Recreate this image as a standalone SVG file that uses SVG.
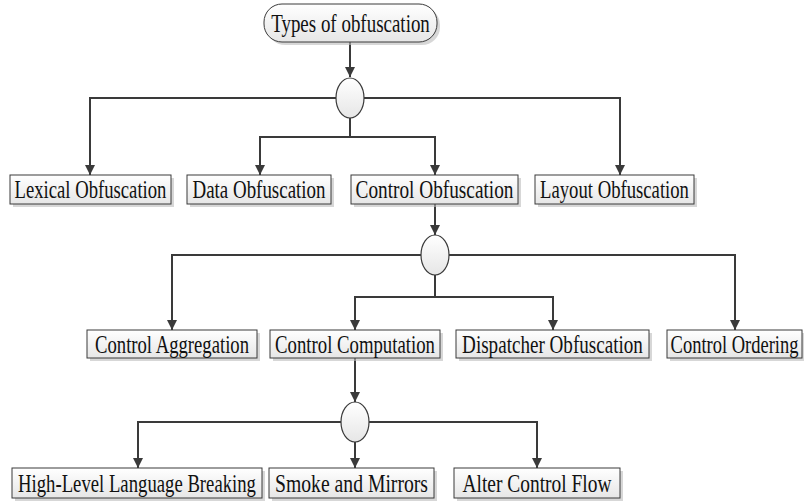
<svg xmlns="http://www.w3.org/2000/svg" width="804" height="504" viewBox="0 0 804 504">
<style>
.box{fill:url(#g);stroke:#3a3a3a;stroke-width:1}
.sh{fill:#bdbdbd;opacity:0.6}
.el{fill:url(#g);stroke:#3a3a3a;stroke-width:1.2}
.t{font-family:"Liberation Serif","Times New Roman",serif;font-size:26px;fill:#111;text-anchor:middle}
.c{fill:none;stroke:#3a3a3a;stroke-width:2}
</style>
<defs>
<linearGradient id="g" x1="0" y1="0" x2="0" y2="1">
<stop offset="0" stop-color="#ffffff"/>
<stop offset="1" stop-color="#e6e6e6"/>
</linearGradient>
<marker id="a" viewBox="0 0 10 10" refX="10" refY="5" markerWidth="5.5" markerHeight="5" orient="auto" markerUnits="strokeWidth">
<path d="M0,0 L10,5 L0,10 z" fill="#3a3a3a"/>
</marker>
</defs>
<rect width="804" height="504" fill="#ffffff"/>
<g id="connectors">
<path class="c" d="M350,42 V77" marker-end="url(#a)"/>
<path class="c" d="M336,98 H90 V175" marker-end="url(#a)"/>
<path class="c" d="M364,98 H620 V175" marker-end="url(#a)"/>
<path class="c" d="M350,118 V137 H260 V175" marker-end="url(#a)"/>
<path class="c" d="M350,137 H435 V175" marker-end="url(#a)"/>
<path class="c" d="M435,204 V235" marker-end="url(#a)"/>
<path class="c" d="M421,255 H172 V330" marker-end="url(#a)"/>
<path class="c" d="M449,255 H735 V330" marker-end="url(#a)"/>
<path class="c" d="M435,275 V297 H355 V330" marker-end="url(#a)"/>
<path class="c" d="M435,297 H553 V330" marker-end="url(#a)"/>
<path class="c" d="M355,358 V402" marker-end="url(#a)"/>
<path class="c" d="M341,422 H138 V468" marker-end="url(#a)"/>
<path class="c" d="M369,422 H537 V468" marker-end="url(#a)"/>
<path class="c" d="M355,442 V468" marker-end="url(#a)"/>
</g>
<g id="n-types">
<rect class="sh" x="267" y="7" width="173" height="38" rx="18"/>
<rect class="box" x="264" y="4" width="173" height="38" rx="18"/>
<text class="t" transform="translate(350.5,31.5) scale(0.729,1)">Types of obfuscation</text>
</g>
<g id="j1"><ellipse class="el" cx="350" cy="98" rx="14" ry="20"/></g>
<g id="n-lexical">
<rect class="sh" x="13" y="178" width="161" height="29"/>
<rect class="box" x="10" y="175" width="161" height="29"/>
<text class="t" transform="translate(90.5,198) scale(0.718,1)">Lexical Obfuscation</text>
</g>
<g id="n-data">
<rect class="sh" x="190" y="178" width="144" height="29"/>
<rect class="box" x="187" y="175" width="144" height="29"/>
<text class="t" transform="translate(259,198) scale(0.728,1)">Data Obfuscation</text>
</g>
<g id="n-control">
<rect class="sh" x="354" y="178" width="167" height="29"/>
<rect class="box" x="351" y="175" width="167" height="29"/>
<text class="t" transform="translate(434.5,198) scale(0.742,1)">Control Obfuscation</text>
</g>
<g id="n-layout">
<rect class="sh" x="538" y="178" width="159" height="29"/>
<rect class="box" x="535" y="175" width="159" height="29"/>
<text class="t" transform="translate(614.5,198) scale(0.719,1)">Layout Obfuscation</text>
</g>
<g id="j2"><ellipse class="el" cx="435" cy="255" rx="14" ry="20"/></g>
<g id="n-aggregation">
<rect class="sh" x="90" y="333" width="170" height="28"/>
<rect class="box" x="87" y="330" width="170" height="28"/>
<text class="t" transform="translate(172,352.5) scale(0.718,1)">Control Aggregation</text>
</g>
<g id="n-computation">
<rect class="sh" x="273" y="333" width="170" height="28"/>
<rect class="box" x="270" y="330" width="170" height="28"/>
<text class="t" transform="translate(355,352.5) scale(0.721,1)">Control Computation</text>
</g>
<g id="n-dispatcher">
<rect class="sh" x="459" y="333" width="193" height="28"/>
<rect class="box" x="456" y="330" width="193" height="28"/>
<text class="t" transform="translate(552.5,352.5) scale(0.735,1)">Dispatcher Obfuscation</text>
</g>
<g id="n-ordering">
<rect class="sh" x="670" y="333" width="135" height="28"/>
<rect class="box" x="667" y="330" width="135" height="28"/>
<text class="t" transform="translate(734.5,352.5) scale(0.712,1)">Control Ordering</text>
</g>
<g id="j3"><ellipse class="el" cx="355" cy="422" rx="14" ry="20"/></g>
<g id="n-highlevel">
<rect class="sh" x="15" y="471" width="250" height="30"/>
<rect class="box" x="12" y="468" width="250" height="30"/>
<text class="t" transform="translate(137,491.5) scale(0.72,1)">High-Level Language Breaking</text>
</g>
<g id="n-smoke">
<rect class="sh" x="272" y="471" width="165" height="30"/>
<rect class="box" x="269" y="468" width="165" height="30"/>
<text class="t" transform="translate(351.5,491.5) scale(0.757,1)">Smoke and Mirrors</text>
</g>
<g id="n-alter">
<rect class="sh" x="457" y="471" width="166" height="30"/>
<rect class="box" x="454" y="468" width="166" height="30"/>
<text class="t" transform="translate(537,491.5) scale(0.748,1)">Alter Control Flow</text>
</g>
</svg>
